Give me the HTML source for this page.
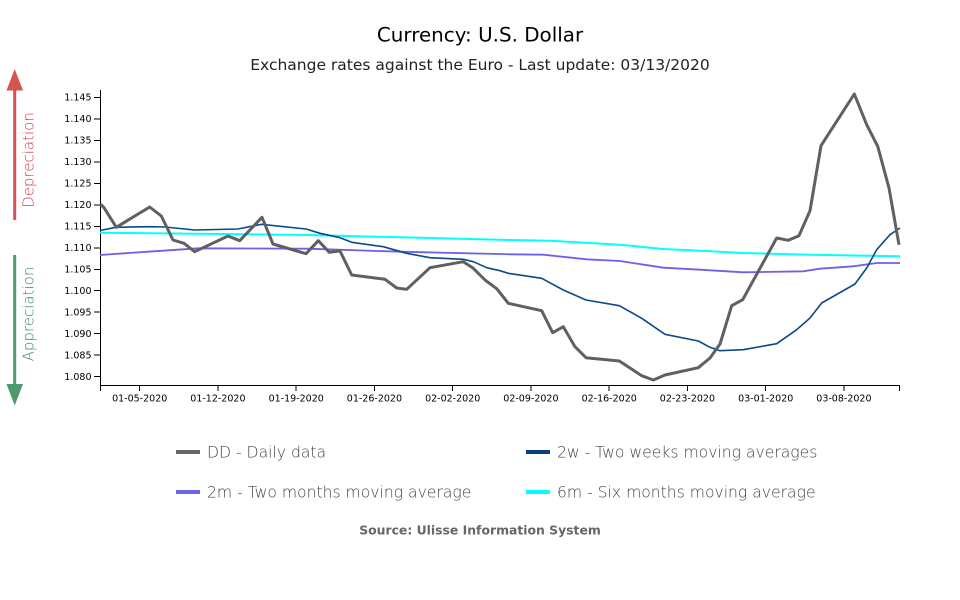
<!DOCTYPE html>
<html>
<head>
<meta charset="utf-8">
<style>
  html, body { margin: 0; padding: 0; background: #fff; }
  svg { display: block; }
  text { font-family: "DejaVu Sans", "Liberation Sans", sans-serif; }
</style>
</head>
<body>
<svg width="960" height="600" viewBox="0 0 960 600" xmlns="http://www.w3.org/2000/svg">
  <rect width="960" height="600" fill="#fff"/>

  <!-- Titles -->
  <text x="480" y="41.5" text-anchor="middle" font-size="19.9" fill="#000">Currency: U.S. Dollar</text>
  <text x="480" y="70" text-anchor="middle" font-size="15.5" fill="#222">Exchange rates against the Euro - Last update: 03/13/2020</text>

  <!-- Side arrows -->
  <rect x="13.2" y="88" width="3" height="132" fill="#d65353"/>
  <polygon points="14.7,69 6.5,90.5 23,90.5" fill="#d65353"/>
  <text transform="translate(33.5,160) rotate(-90)" text-anchor="middle" font-size="15" font-weight="200" fill="#cf4040">Depreciation</text>

  <rect x="13.2" y="255" width="3" height="132" fill="#4d9a6e"/>
  <polygon points="14.7,405.5 6.5,384 23,384" fill="#4d9a6e"/>
  <text transform="translate(33.5,314) rotate(-90)" text-anchor="middle" font-size="15" font-weight="200" fill="#3d8a5e">Appreciation</text>

  <!-- Axes -->
  <g stroke="#000" stroke-width="1" fill="none" shape-rendering="crispEdges">
    <line x1="100.5" y1="90" x2="100.5" y2="391"/>
    <line x1="100" y1="385.5" x2="900" y2="385.5"/>
    <line x1="899.5" y1="385" x2="899.5" y2="391"/>
    <line x1="94" y1="376.7" x2="100" y2="376.7"/>
    <line x1="94" y1="355.2" x2="100" y2="355.2"/>
    <line x1="94" y1="333.7" x2="100" y2="333.7"/>
    <line x1="94" y1="312.2" x2="100" y2="312.2"/>
    <line x1="94" y1="290.7" x2="100" y2="290.7"/>
    <line x1="94" y1="269.25" x2="100" y2="269.25"/>
    <line x1="94" y1="247.8" x2="100" y2="247.8"/>
    <line x1="94" y1="226.3" x2="100" y2="226.3"/>
    <line x1="94" y1="204.8" x2="100" y2="204.8"/>
    <line x1="94" y1="183.3" x2="100" y2="183.3"/>
    <line x1="94" y1="161.8" x2="100" y2="161.8"/>
    <line x1="94" y1="140.3" x2="100" y2="140.3"/>
    <line x1="94" y1="118.8" x2="100" y2="118.8"/>
    <line x1="94" y1="97.3" x2="100" y2="97.3"/>
    <line x1="139.7" y1="385" x2="139.7" y2="391"/>
    <line x1="217.9" y1="385" x2="217.9" y2="391"/>
    <line x1="296.2" y1="385" x2="296.2" y2="391"/>
    <line x1="374.4" y1="385" x2="374.4" y2="391"/>
    <line x1="452.7" y1="385" x2="452.7" y2="391"/>
    <line x1="530.9" y1="385" x2="530.9" y2="391"/>
    <line x1="609.2" y1="385" x2="609.2" y2="391"/>
    <line x1="687.4" y1="385" x2="687.4" y2="391"/>
    <line x1="765.7" y1="385" x2="765.7" y2="391"/>
    <line x1="843.9" y1="385" x2="843.9" y2="391"/>
  </g>

  <g font-size="9.5" fill="#000" text-anchor="end">
    <text x="91.5" y="380.1">1.080</text>
    <text x="91.5" y="358.6">1.085</text>
    <text x="91.5" y="337.1">1.090</text>
    <text x="91.5" y="315.6">1.095</text>
    <text x="91.5" y="294.1">1.100</text>
    <text x="91.5" y="272.65">1.105</text>
    <text x="91.5" y="251.2">1.110</text>
    <text x="91.5" y="229.7">1.115</text>
    <text x="91.5" y="208.2">1.120</text>
    <text x="91.5" y="186.7">1.125</text>
    <text x="91.5" y="165.2">1.130</text>
    <text x="91.5" y="143.7">1.135</text>
    <text x="91.5" y="122.2">1.140</text>
    <text x="91.5" y="100.7">1.145</text>
  </g>

  <g font-size="9.5" fill="#000" text-anchor="middle">
    <text x="139.7" y="401.5">01-05-2020</text>
    <text x="217.9" y="401.5">01-12-2020</text>
    <text x="296.2" y="401.5">01-19-2020</text>
    <text x="374.4" y="401.5">01-26-2020</text>
    <text x="452.7" y="401.5">02-02-2020</text>
    <text x="530.9" y="401.5">02-09-2020</text>
    <text x="609.2" y="401.5">02-16-2020</text>
    <text x="687.4" y="401.5">02-23-2020</text>
    <text x="765.7" y="401.5">03-01-2020</text>
    <text x="843.9" y="401.5">03-08-2020</text>
  </g>

  <!-- Series -->
  <g fill="none" stroke-linejoin="round" stroke-linecap="butt">
    <polyline stroke="#00ffff" stroke-width="2"
      points="100,232.7 308,235 510,240 550,240.7 620,244.7 663.3,249 700,250.7 743.3,253 810,254.7 900,256.3"/>
    <polyline stroke="#6b63e6" stroke-width="1.8"
      points="100,255 148,251.7 198,248.3 308,248.7 400,251.7 510,254.3 543.3,254.7 586.7,259.3 620,261 663.3,267.7 700,269.7 743.3,272.3 803.3,271.3 820,268.7 853.3,266.3 876.7,263 900,263"/>
    <polyline stroke="#0a4a8a" stroke-width="1.6"
      points="100,230.5 116,227.3 150,226.7 164.7,227 194.7,230 238,229 261.3,224.3 306,229 320,233.3 340,237.7 351.7,242.3 383.3,246.7 406.7,253.3 430,257.7 463.3,259.3 473.3,261.7 486.7,267.7 500,270.7 508.3,273.3 541.7,278.3 563.3,290 586,300 619.3,305.7 641.7,318.3 665,334.3 698.3,341 710,347.3 720,350.7 743.3,349.7 776.7,343.7 796.7,329.7 810,318 821.7,303 855,284 866.7,268 876.7,249.7 890,234.7 900,228"/>
    <polyline stroke="#606060" stroke-width="3"
      points="100.7,204.3 104,207.7 116.3,227.3 149.7,207 161.3,216 173,240 184,243.3 194.7,251.7 228,236 239.7,240.7 262,217.3 273,244 306,253.7 318.3,240.7 329.3,252.3 340,251 351.7,275 385,279.3 396.7,288 406.7,289.3 430,267.7 463.3,261.7 473.3,268.3 485,280 496.7,288.7 508.3,303.3 541.7,310.7 552.7,332.7 563.3,326.7 575,346.7 586,357.7 619.3,361 641.7,375.7 653.3,380 665,375 698.3,367.7 710,358 720,344 731.7,305.7 742.7,299.7 776.7,238 788.3,240.3 799,235.7 810,210.7 821,145.7 854.3,94 866.7,124.7 877.7,146.3 889,188 899,244.7"/>
  </g>

  <!-- Legend -->
  <rect x="176" y="450" width="24" height="4" fill="#666666"/>
  <text x="207" y="457.5" font-size="15.6" font-weight="200" fill="#444">DD - Daily data</text>
  <rect x="526" y="450" width="24" height="4" fill="#0a4080"/>
  <text x="557" y="457.5" font-size="15.6" font-weight="200" fill="#444">2w - Two weeks moving averages</text>
  <rect x="176" y="490" width="24" height="4" fill="#6b66e8"/>
  <text x="207" y="497.5" font-size="15.6" font-weight="200" fill="#444">2m - Two months moving average</text>
  <rect x="526" y="490" width="24" height="4" fill="#00ffff"/>
  <text x="557" y="497.5" font-size="15.6" font-weight="200" fill="#444">6m - Six months moving average</text>

  <text x="480" y="534.5" text-anchor="middle" font-size="12.4" font-weight="bold" fill="#666">Source: Ulisse Information System</text>
</svg>
</body>
</html>
